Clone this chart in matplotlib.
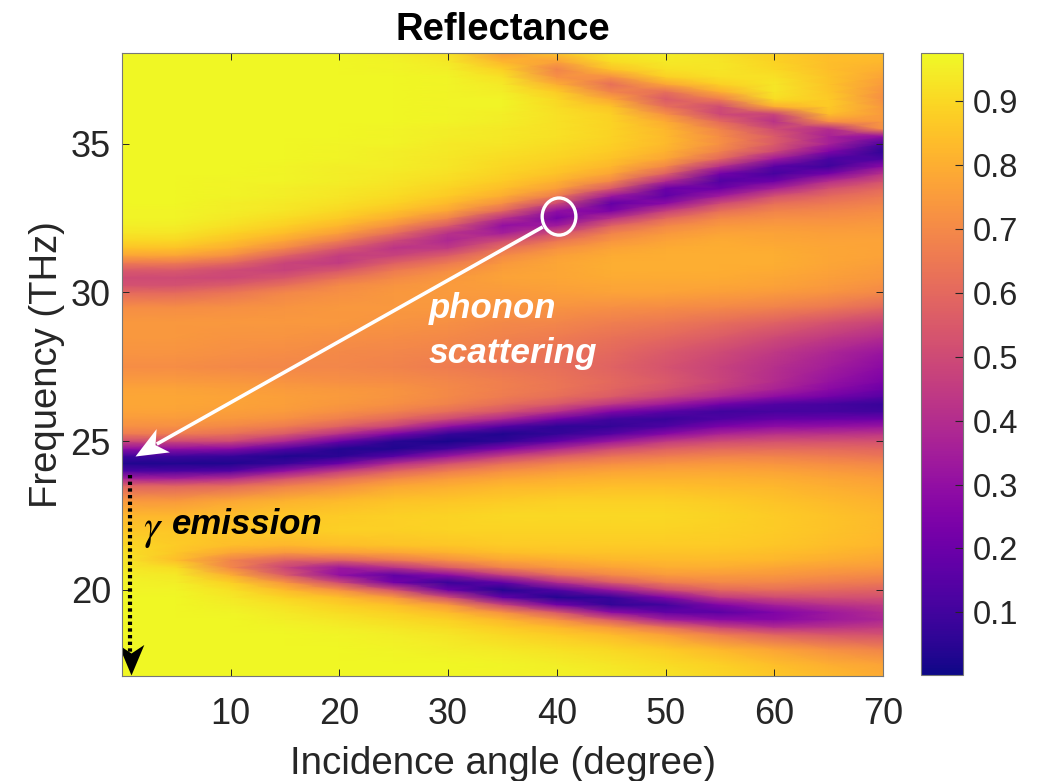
import numpy as np
import matplotlib
matplotlib.use('Agg')
import matplotlib.pyplot as plt
from matplotlib.markers import MarkerStyle
from matplotlib.patches import Ellipse
from matplotlib.path import Path
from matplotlib.transforms import Affine2D

plt.rcParams['font.family'] = ['Liberation Sans', 'DejaVu Sans']
plt.rcParams['mathtext.fontset'] = 'stix'

angles = [0, 5, 10, 15, 20, 25, 30, 35, 40, 45, 50, 55, 60, 65, 70]
freqs = [17, 17.5, 18,
         18.5, 18.75, 19, 19.25, 19.5, 19.75, 20, 20.25, 20.5, 20.75, 21, 21.25, 21.5,
         22, 22.5, 23,
         23.5, 23.75, 24, 24.25, 24.5, 24.75, 25, 25.25, 25.5, 25.75, 26, 26.25, 26.5, 26.75, 27,
         27.5, 28, 28.5, 29, 29.5,
         30, 30.25, 30.5, 30.75, 31, 31.25, 31.5, 31.75, 32, 32.25, 32.5, 32.75, 33, 33.25, 33.5, 33.75,
         34, 34.25, 34.5, 34.75, 35, 35.25, 35.5, 35.75, 36, 36.25, 36.5, 36.75, 37, 37.25, 37.5, 37.75, 38.05]

# reflectance, one profile per angle, same rows as freqs
r00 = [.97,.97,.97,
       .97,.97,.97,.97,.97,.97,.96,.96,.95,.94,.93,.92,.90,
       .86,.82,.74,
       .58,.35,.12,.03,.10,.30,.50,.66,.72,.75,.77,.78,.78,.77,.75,
       .71,.73,.74,.74,.71,
       .60,.52,.50,.55,.66,.78,.85,.90,.93,.95,.96,.96,.97,.97,.97,.97,
       .97,.97,.97,.97,.97,.97,.97,.97,.97,.97,.97,.97,.97,.97,.97,.97,.97]
r05 = [.97,.97,.97,
       .97,.97,.97,.97,.97,.97,.96,.95,.94,.91,.84,.86,.87,
       .86,.82,.74,
       .58,.35,.12,.03,.10,.30,.50,.66,.72,.75,.77,.78,.78,.77,.75,
       .71,.73,.74,.74,.71,
       .60,.52,.50,.55,.66,.78,.85,.90,.93,.95,.96,.96,.97,.97,.97,.97,
       .97,.97,.97,.97,.97,.97,.97,.97,.97,.97,.97,.97,.97,.97,.97,.97,.97]
r10 = [.97,.97,.97,
       .97,.97,.97,.96,.95,.94,.92,.88,.80,.69,.68,.78,.84,
       .86,.84,.78,
       .60,.40,.14,.03,.08,.28,.50,.63,.70,.74,.76,.77,.77,.76,.74,
       .70,.72,.73,.74,.72,
       .64,.56,.49,.50,.60,.72,.80,.85,.89,.92,.94,.95,.95,.96,.96,.96,
       .97,.97,.97,.97,.97,.97,.97,.97,.97,.97,.97,.97,.97,.97,.97,.97,.97]
r15 = [.97,.97,.97,
       .97,.96,.95,.94,.92,.89,.83,.73,.56,.48,.58,.74,.82,
       .87,.86,.81,
       .67,.52,.30,.08,.03,.15,.38,.56,.66,.72,.75,.76,.76,.75,.73,
       .69,.71,.73,.74,.73,
       .69,.62,.54,.47,.48,.58,.70,.78,.84,.88,.91,.93,.94,.95,.95,.96,
       .96,.96,.97,.97,.97,.97,.97,.97,.97,.97,.97,.97,.97,.97,.97,.97,.97]
r20 = [.97,.97,.97,
       .96,.95,.93,.91,.88,.84,.72,.50,.30,.33,.58,.76,.84,
       .88,.87,.83,
       .72,.62,.45,.20,.05,.04,.20,.42,.58,.67,.72,.74,.75,.74,.72,
       .69,.70,.72,.74,.74,
       .72,.70,.63,.54,.45,.46,.55,.67,.76,.82,.87,.90,.92,.93,.94,.95,
       .95,.95,.96,.96,.96,.97,.97,.97,.97,.97,.97,.97,.97,.97,.97,.97,.97]
r25 = [.97,.97,.96,
       .95,.93,.91,.88,.84,.74,.52,.22,.17,.42,.65,.78,.85,
       .88,.88,.85,
       .78,.70,.58,.40,.15,.03,.05,.25,.48,.60,.68,.72,.73,.73,.71,
       .68,.69,.71,.73,.74,
       .74,.73,.70,.65,.57,.47,.43,.50,.62,.72,.80,.85,.89,.91,.92,.93,
       .94,.95,.95,.95,.96,.96,.96,.97,.97,.97,.97,.97,.97,.97,.96,.96,.95]
r30 = [.97,.97,.95,
       .93,.91,.88,.83,.74,.50,.20,.08,.28,.56,.72,.81,.86,
       .89,.89,.86,
       .80,.75,.66,.52,.32,.10,.02,.08,.30,.50,.62,.68,.70,.70,.69,
       .66,.68,.70,.72,.74,
       .75,.75,.74,.71,.65,.56,.44,.38,.42,.56,.68,.78,.83,.87,.89,.91,
       .92,.93,.93,.94,.94,.95,.95,.96,.96,.96,.96,.96,.96,.96,.95,.94,.92]
r35 = [.96,.96,.94,
       .90,.87,.82,.72,.48,.18,.04,.18,.46,.68,.78,.84,.87,
       .89,.90,.87,
       .82,.78,.72,.62,.46,.25,.06,.03,.15,.38,.54,.62,.66,.67,.67,
       .64,.66,.68,.70,.73,
       .75,.76,.77,.76,.74,.70,.62,.50,.35,.30,.42,.60,.72,.80,.84,.87,
       .89,.90,.91,.92,.93,.94,.94,.95,.95,.96,.96,.95,.94,.92,.88,.82,.75]
r40 = [.96,.95,.92,
       .87,.82,.72,.54,.22,.04,.14,.40,.62,.74,.80,.85,.87,
       .89,.90,.88,
       .83,.80,.75,.68,.56,.38,.18,.07,.06,.22,.42,.55,.62,.64,.64,
       .62,.63,.66,.69,.73,
       .76,.77,.78,.78,.78,.76,.72,.64,.52,.34,.23,.30,.50,.66,.76,.81,
       .85,.87,.89,.90,.91,.92,.92,.92,.92,.91,.90,.87,.80,.72,.68,.76,.85]
r45 = [.95,.93,.90,
       .83,.74,.55,.28,.07,.08,.32,.56,.70,.77,.82,.85,.87,
       .89,.90,.88,
       .84,.81,.77,.71,.63,.50,.32,.14,.07,.10,.26,.44,.56,.59,.60,
       .58,.60,.63,.67,.72,
       .77,.78,.79,.80,.80,.79,.77,.73,.68,.58,.42,.24,.18,.33,.55,.70,
       .78,.82,.85,.87,.88,.89,.89,.89,.88,.85,.78,.68,.62,.72,.85,.91,.94]
r50 = [.93,.91,.87,
       .76,.62,.35,.17,.10,.26,.50,.66,.75,.80,.83,.85,.87,
       .89,.90,.88,
       .84,.81,.78,.73,.66,.57,.44,.27,.13,.08,.16,.34,.47,.53,.55,
       .53,.55,.60,.65,.71,
       .77,.78,.79,.80,.80,.80,.79,.77,.74,.69,.60,.46,.28,.17,.20,.40,
       .58,.70,.78,.81,.83,.83,.82,.79,.72,.62,.55,.62,.78,.88,.92,.94,.95]
r55 = [.90,.88,.82,
       .66,.48,.28,.16,.26,.45,.60,.70,.75,.80,.83,.85,.87,
       .88,.89,.87,
       .83,.81,.78,.74,.68,.60,.50,.37,.24,.13,.10,.22,.38,.45,.48,
       .47,.50,.56,.62,.70,
       .76,.78,.79,.80,.80,.80,.80,.79,.77,.74,.70,.62,.50,.34,.20,.14,
       .22,.42,.60,.68,.72,.71,.68,.60,.49,.50,.66,.80,.88,.92,.93,.93,.92]
r60 = [.87,.84,.77,
       .58,.40,.27,.25,.36,.50,.62,.69,.74,.78,.82,.84,.86,
       .87,.87,.85,
       .82,.80,.77,.73,.68,.61,.52,.41,.29,.18,.11,.14,.29,.37,.40,
       .41,.44,.50,.58,.68,
       .75,.77,.78,.79,.80,.80,.79,.78,.77,.75,.72,.68,.62,.52,.36,.20,
       .11,.16,.34,.50,.56,.56,.50,.42,.48,.80,.91,.93,.93,.92,.90,.89,.88]
r65 = [.84,.80,.72,
       .54,.42,.33,.33,.42,.52,.60,.67,.72,.76,.80,.82,.84,
       .85,.85,.83,
       .80,.78,.75,.71,.66,.60,.52,.42,.30,.19,.11,.11,.22,.28,.31,
       .35,.38,.45,.53,.65,
       .73,.75,.76,.77,.78,.78,.78,.77,.76,.74,.72,.69,.65,.60,.52,.40,
       .22,.09,.12,.26,.36,.36,.40,.72,.84,.87,.87,.86,.85,.85,.84,.84,.84]
r70 = [.80,.77,.68,
       .52,.45,.38,.40,.45,.52,.58,.65,.70,.75,.78,.80,.82,
       .83,.83,.81,
       .78,.76,.73,.69,.64,.59,.52,.43,.32,.20,.10,.08,.15,.20,.24,
       .28,.32,.40,.48,.60,
       .70,.72,.74,.75,.76,.77,.77,.77,.76,.75,.73,.71,.68,.65,.60,.52,
       .42,.28,.12,.06,.12,.30,.72,.74,.75,.74,.72,.73,.75,.77,.80,.82,.84]

cbar_ticks = [0.1, 0.2, 0.3, 0.4, 0.5, 0.6, 0.7, 0.8, 0.9]
x_ticks = [10, 20, 30, 40, 50, 60, 70]
y_ticks = [20, 25, 30, 35]

R = np.column_stack([r00, r05, r10, r15, r20, r25, r30, r35, r40, r45, r50, r55, r60, r65, r70])

W, H = 1043, 781
fig = plt.figure(figsize=(W / 100, H / 100), dpi=100)
ax = fig.add_axes([122 / W, (H - 676) / H, 761 / W, 623 / H])
dark = '#262626'

X, Y = np.meshgrid(angles, freqs)
im = ax.pcolormesh(X, Y, R, cmap='plasma', vmin=0.002, vmax=0.975, shading='gouraud')
ax.set_xlim(0, 70)
ax.set_ylim(17.1, 38.05)
ax.set_xticks(x_ticks)
ax.set_yticks(y_ticks)
ax.tick_params(direction='in', length=5, width=0.7, colors=dark, labelsize=26, top=True, right=True, pad=8)
ax.tick_params(axis='x', pad=15)
for s in ax.spines.values():
    s.set_linewidth(0.8)
    s.set_color('#777777')
ax.set_xlabel('Incidence angle (degree)', fontsize=27.7, color=dark, labelpad=10)
ax.set_ylabel('Frequency (THz)', fontsize=27.5, color=dark, labelpad=4)
ax.set_title('Reflectance', fontsize=27.5, fontweight='bold', color='black', pad=9)

cax = fig.add_axes([921 / W, (H - 675) / H, 42 / W, 622 / H])
cb = fig.colorbar(im, cax=cax)
cb.set_ticks(cbar_ticks)
cb.ax.tick_params(direction='in', length=6, width=0.8, colors=dark, labelsize=23.5, pad=7)
cb.outline.set_linewidth(0.8)
cb.outline.set_edgecolor('#777777')

# notched arrow head, tip at the marker origin
head = Path([(0, 0), (-1, 0.42), (-0.72, 0), (-1, -0.42), (0, 0)])

# phonon scattering arrow, from the circle down to the main band
ax.add_patch(Ellipse((40.2, 32.55), 3.1, 1.25, fill=False, ec='white', lw=2.4))
ax.plot([38.7, 3.2], [32.2, 24.9], color='white', lw=2.6, solid_capstyle='butt')
ax.plot([1.2], [24.5], ls='none', ms=46, mew=0, color='white',
        marker=MarkerStyle(head, transform=Affine2D().rotate_deg(209.6)))
ax.text(28.2, 29.45, 'phonon', color='white', fontsize=25, fontweight='bold', style='italic', va='center')
ax.text(28.2, 27.95, 'scattering', color='white', fontsize=25.4, fontweight='bold', style='italic', va='center')

# gamma emission arrow
ax.plot([0.75, 0.75], [23.85, 17.85], color='black', lw=3, ls=(0, (0.8, 0.8)))
ax.plot([0.8], [17.13], ls='none', ms=44, mew=0, color='black',
        marker=MarkerStyle(head, transform=Affine2D().rotate_deg(-90)))
ax.text(1.9, 22.0, r'$\gamma$', color='black', fontsize=30, va='center')
ax.text(4.6, 22.2, 'emission', color='black', fontsize=25, fontweight='bold', style='italic', va='center')

fig.savefig('out.png', dpi=100)
